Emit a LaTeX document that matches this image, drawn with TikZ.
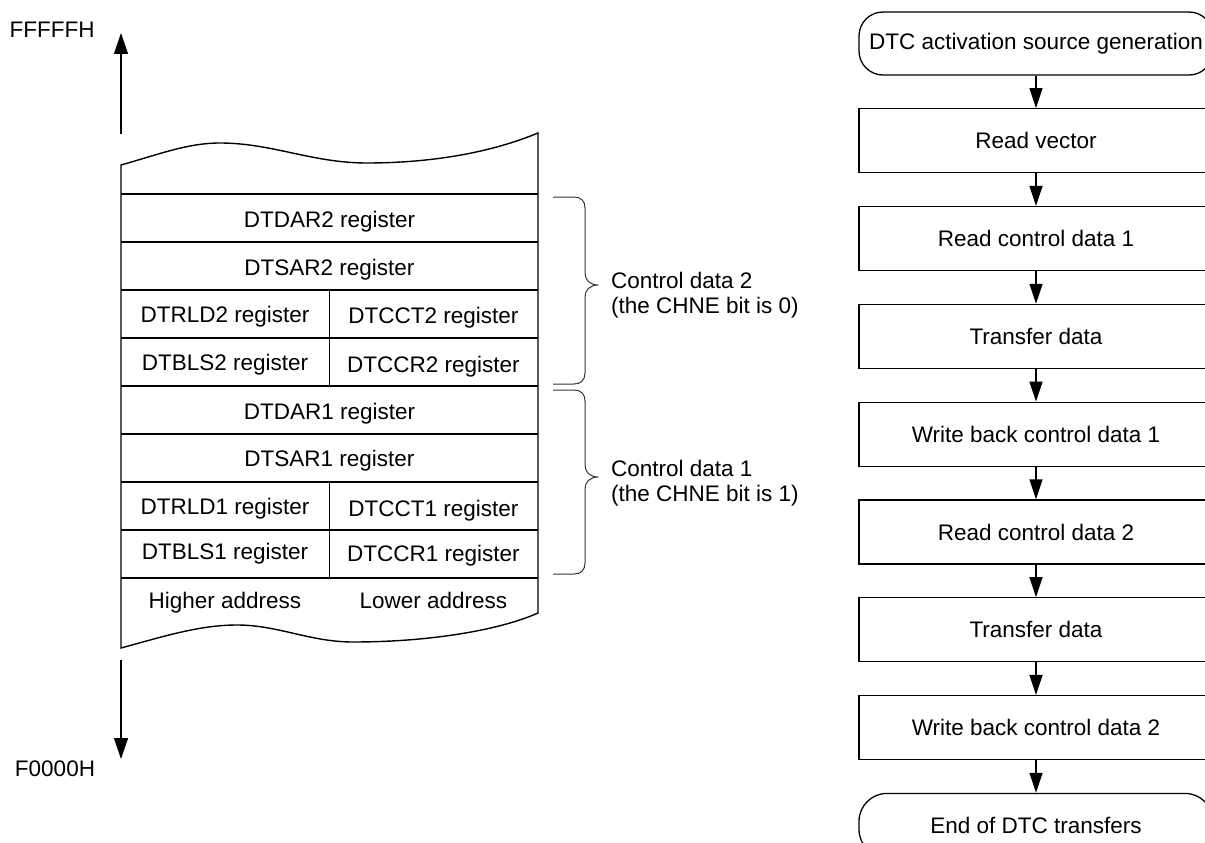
\documentclass[tikz,border=0pt]{standalone}
\usepackage{fontspec}
\setmainfont{Liberation Sans}
\usetikzlibrary{arrows.meta, positioning}

\begin{document}
\begin{tikzpicture}[
  x=1pt, y=-1pt,
  every node/.style={font=\fontsize{22.5}{25}\selectfont, inner sep=0pt},
  mem/.style={line width=1.4pt},
  brc/.style={line width=1pt, black!80},
  reg/.style={anchor=base},
  procbox/.style={draw, line width=1.3pt, minimum width=354pt, minimum height=64pt},
  termbox/.style={procbox, rounded corners=24pt},
  arr/.style={-{Triangle[length=20pt, width=13pt]}, line width=1.3pt},
  addr/.style={-{Triangle[length=21pt, width=14pt]}, line width=1.4pt},
  node distance=32.5pt,
]
  \useasboundingbox (0,0) rectangle (1205,843);
  \clip (0,0) rectangle (1205,843);

  % address direction
  \node (fff) at (52,29.5) {FFFFFH};
  \node (f00) at (55,768.5) {F0000H};
  \coordinate (upfrom) at (121,134);
  \coordinate (upto) at (121,33);
  \coordinate (dnfrom) at (121,660);
  \coordinate (dnto) at (121,759);
  \draw[addr] (upfrom) -- (upto);
  \draw[addr] (dnfrom) -- (dnto);

  % memory area, cut at both ends
  \draw[mem] (121,165) .. controls (160,154) and (188,143) .. (220,143)
    .. controls (272,143) and (312,163) .. (367,163)
    .. controls (430,163) and (490,153) .. (538,133) -- (538,613)
    .. controls (500,630) and (430,642) .. (353,642)
    .. controls (310,642) and (278,625) .. (237,625)
    .. controls (200,625) and (165,636) .. (121,648) -- cycle;
  \foreach \y in {194,242,290,338,386,434,482,530,578}
    \draw[mem] (121,\y) -- (538,\y);
  \draw[mem] (329.5,290) -- (329.5,386);
  \draw[mem] (329.5,482) -- (329.5,578);

  \node[reg] (dar2) at (329.5,227) {DTDAR2 register};
  \node[reg] (sar2) at (329.5,275) {DTSAR2 register};
  \node[reg] (rld2) at (225,322) {DTRLD2 register};
  \node[reg] (cct2) at (433.5,323) {DTCCT2 register};
  \node[reg] (bls2) at (225,370) {DTBLS2 register};
  \node[reg] (ccr2) at (433.5,372) {DTCCR2 register};
  \node[reg] (dar1) at (329.5,419) {DTDAR1 register};
  \node[reg] (sar1) at (329.5,466) {DTSAR1 register};
  \node[reg] (rld1) at (225,514) {DTRLD1 register};
  \node[reg] (cct1) at (433.5,516) {DTCCT1 register};
  \node[reg] (bls1) at (225,559) {DTBLS1 register};
  \node[reg] (ccr1) at (433.5,561) {DTCCR1 register};
  \node[reg] (hiaddr) at (225,608) {Higher address};
  \node[reg] (loaddr) at (433.5,608) {Lower address};

  % braces
  \draw[brc] (553,197) -- (574,197) .. controls (581,197) and (585,201) .. (585,208)
    -- (585,273) .. controls (585,280) and (590,285) .. (598,285)
    .. controls (590,285) and (585,290) .. (585,297)
    -- (585,373) .. controls (585,380) and (581,384) .. (574,384) -- (553,384);
  \draw[brc] (553,390) -- (574,390) .. controls (581,390) and (585,394) .. (585,401)
    -- (585,465) .. controls (585,472) and (590,477) .. (598,477)
    .. controls (590,477) and (585,482) .. (585,489)
    -- (585,563) .. controls (585,570) and (581,574) .. (574,574) -- (553,574);
  \node[anchor=west, align=left] (cd2) at (611,295) {Control data 2\\(the CHNE bit is 0)};
  \node[anchor=west, align=left] (cd1) at (611,483) {Control data 1\\(the CHNE bit is 1)};

  % transfer flow
  \node[termbox, minimum height=63pt] (start) at (1036,43.5) {DTC activation source generation};
  \node[procbox, below=of start] (rdvec) {Read vector};
  \node[procbox, below=of rdvec] (rdcd1) {Read control data 1};
  \node[procbox, below=of rdcd1] (xfer1) {Transfer data};
  \node[procbox, below=of xfer1] (wbcd1) {Write back control data 1};
  \node[procbox, below=of wbcd1] (rdcd2) {Read control data 2};
  \node[procbox, below=of rdcd2] (xfer2) {Transfer data};
  \node[procbox, below=of xfer2] (wbcd2) {Write back control data 2};
  \node[termbox, rounded corners=28pt, below=of wbcd2] (stop) {End of DTC transfers};

  \draw[arr] (start) -- (rdvec);
  \draw[arr] (rdvec) -- (rdcd1);
  \draw[arr] (rdcd1) -- (xfer1);
  \draw[arr] (xfer1) -- (wbcd1);
  \draw[arr] (wbcd1) -- (rdcd2);
  \draw[arr] (rdcd2) -- (xfer2);
  \draw[arr] (xfer2) -- (wbcd2);
  \draw[arr] (wbcd2) -- (stop);
\end{tikzpicture}
\end{document}
